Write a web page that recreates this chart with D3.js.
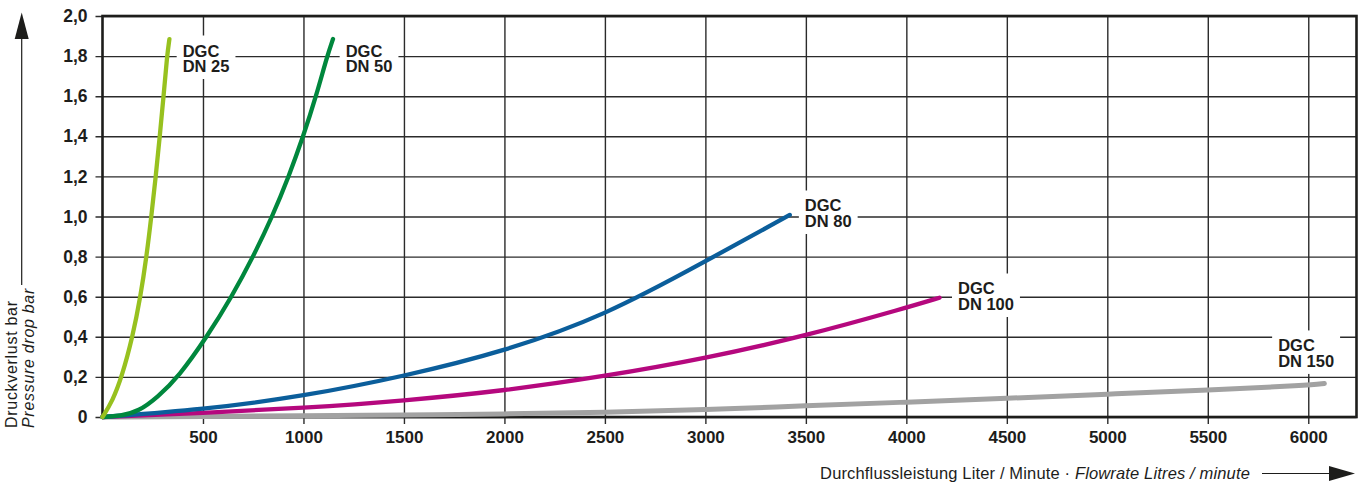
<!DOCTYPE html>
<html>
<head>
<meta charset="utf-8">
<script src="https://cdn.jsdelivr.net/npm/d3@7"></script>
<style>
  html, body { margin: 0; padding: 0; background: #fff; }
  svg { display: block; font-family: "Liberation Sans", Arial, Helvetica, sans-serif; }
</style>
</head>
<body>
<div id="chart"></div>
<script>
// flow (l/min), pressure drop (bar)
const dn25 = [[0, 0], [50, 0.08], [96, 0.2], [150, 0.4], [189, 0.6], [219, 0.8], [243, 1.0], [265, 1.2], [285, 1.4], [304, 1.6], [321, 1.8], [333, 1.885]];
const dn50 = [[0, 0], [90, 0.005], [180, 0.028], [275, 0.1], [378, 0.2], [520, 0.4], [643, 0.6], [750, 0.8], [845, 1.0], [927, 1.2], [999, 1.4], [1063, 1.6], [1118, 1.8], [1147, 1.885]];
const dn80 = [[0, 0], [500, 0.037], [1000, 0.103], [1500, 0.203], [2000, 0.327], [2500, 0.505], [3000, 0.776], [3420, 1.008]];
const dn100 = [[0, 0], [500, 0.02], [1000, 0.045], [1500, 0.081], [2000, 0.131], [2500, 0.203], [3000, 0.292], [3500, 0.405], [4000, 0.545], [4165, 0.595]];
const dn150 = [[0, 0], [500, 0.003], [1000, 0.006], [1500, 0.01], [2000, 0.015], [2500, 0.022], [3000, 0.036], [3500, 0.056], [4000, 0.074], [4500, 0.093], [5000, 0.114], [5500, 0.134], [6000, 0.158], [6080, 0.167]];

const seriesNames = ["DN 25", "DN 50", "DN 80", "DN 100", "DN 150"];
const seriesColors = ["#97c11f", "#00873d", "#0b5e9b", "#b5087e", "#a2a2a2"];
// where each "DGC / DN xx" label sits (flow, bar at first baseline)
const labelFlow = [399, 1210, 3495, 4257, 5850];
const labelBar = [1.798, 1.798, 1.025, 0.611, 0.327];

const xTicks = [500, 1000, 1500, 2000, 2500, 3000, 3500, 4000, 4500, 5000, 5500, 6000];
const yTicks = [0, 0.2, 0.4, 0.6, 0.8, 1.0, 1.2, 1.4, 1.6, 1.8, 2.0];

const W = 1359, H = 485;
const plotL = 102.5, plotR = 1356.5, plotT = 16, plotB = 417;

const svg = d3.select("#chart").append("svg")
  .attr("width", W)
  .attr("height", H);

const x = d3.scaleLinear().domain([0, 6240]).range([plotL, plotR]);
const y = d3.scaleLinear().domain([0, 2]).range([plotB, plotT]);

// grid + y labels
const gy = svg.append("g")
  .attr("transform", `translate(${plotL},0)`)
  .call(d3.axisLeft(y)
    .tickValues(yTicks)
    .tickSize(-(plotR - plotL))
    .tickPadding(15)
    .tickFormat(d => d === 0 ? "0" : d.toFixed(1).replace(".", ",")));
gy.select(".domain").remove();
gy.selectAll(".tick line").attr("x1", -7).attr("stroke", "#2b2b2b").attr("stroke-width", 1.4);
gy.selectAll(".tick text")
  .attr("fill", "#1d1d1b")
  .style("font-size", "17.5px")
  .style("font-weight", "bold");

const gx = svg.append("g")
  .attr("transform", `translate(0,${plotB})`)
  .call(d3.axisBottom(x)
    .tickValues(xTicks)
    .tickSize(-(plotB - plotT))
    .tickPadding(14)
    .tickFormat(d3.format("d")));
gx.select(".domain").remove();
gx.selectAll(".tick line").attr("y1", 7).attr("stroke", "#2b2b2b").attr("stroke-width", 1.4);
gx.selectAll(".tick text")
  .attr("fill", "#1d1d1b")
  .style("font-size", "17px")
  .style("font-weight", "bold");

// label boxes knock out the grid
const labels = svg.append("g");
seriesNames.forEach((name, i) => {
  const g = labels.append("g")
    .attr("transform", `translate(${x(labelFlow[i])},${y(labelBar[i])})`);
  const box = g.append("rect").attr("fill", "#fff");
  const t = g.append("text")
    .attr("fill", "#1d1d1b")
    .style("font-size", "16.5px")
    .style("font-weight", "bold");
  t.append("tspan").attr("x", 0).attr("y", 0).text("DGC");
  t.append("tspan").attr("x", 0).attr("y", 15.5).text(name);
  const b = t.node().getBBox();
  box.attr("x", b.x - 6).attr("y", b.y - 6).attr("width", b.width + 12).attr("height", b.height + 10);
});

// frame
svg.append("rect")
  .attr("x", plotL)
  .attr("y", plotT)
  .attr("width", plotR - plotL)
  .attr("height", plotB - plotT)
  .attr("fill", "none")
  .attr("stroke", "#1d1d1b")
  .attr("stroke-width", 2.6);

const line = d3.line()
  .x(d => x(d[0]))
  .y(d => y(d[1]))
  .curve(d3.curveBasis);

[dn150, dn100, dn80, dn50, dn25].forEach((s, k) => {
  const i = 4 - k;
  svg.append("path")
    .datum(s)
    .attr("fill", "none")
    .attr("stroke", seriesColors[i])
    .attr("stroke-width", i === 4 ? 5 : 4.3)
    .attr("stroke-linecap", "round")
    .attr("d", line);
});

labels.raise();

// y axis title + arrow
svg.append("line")
  .attr("x1", 21.7).attr("x2", 21.7)
  .attr("y1", 285).attr("y2", 36)
  .attr("stroke", "#1d1d1b").attr("stroke-width", 1.2);
svg.append("path")
  .attr("d", "M21.7,12.5 L28.7,39 L14.7,39 Z")
  .attr("fill", "#1d1d1b");

const yt = svg.append("text")
  .attr("transform", "translate(0,428) rotate(-90)")
  .attr("fill", "#1d1d1b")
  .style("font-size", "16px")
  .style("letter-spacing", "0.7px");
yt.append("tspan").attr("x", 0).attr("y", 17).text("Druckverlust bar");
yt.append("tspan").attr("x", 0).attr("y", 34).style("font-style", "italic").text("Pressure drop bar");

// x axis title + arrow
const xt = svg.append("text")
  .attr("x", 1250)
  .attr("y", 479)
  .attr("text-anchor", "end")
  .attr("fill", "#1d1d1b")
  .style("font-size", "16.5px")
  .style("letter-spacing", "0.15px");
xt.append("tspan").text("Durchflussleistung Liter / Minute  \u00b7  ");
xt.append("tspan").style("font-style", "italic").text("Flowrate Litres / minute");

svg.append("line")
  .attr("x1", 1262).attr("x2", 1332)
  .attr("y1", 473.5).attr("y2", 473.5)
  .attr("stroke", "#1d1d1b").attr("stroke-width", 1.2);
svg.append("path")
  .attr("d", "M1355,473.5 L1329,466 L1329,481 Z")
  .attr("fill", "#1d1d1b");
</script>
</body>
</html>
